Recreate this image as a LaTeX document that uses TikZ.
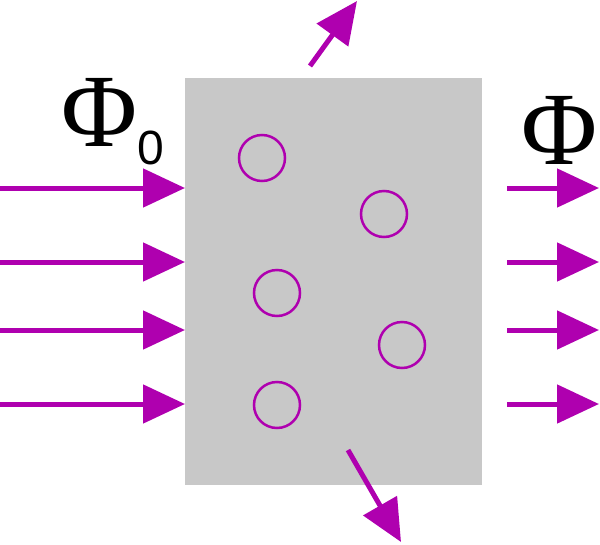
\documentclass[tikz,border=0pt]{standalone}
\usepackage{fontspec}
\setmainfont{Liberation Serif}
\newfontfamily\digitfont{Liberation Sans}
\usetikzlibrary{arrows.meta}
\definecolor{purp}{RGB}{175,0,175}
\definecolor{slab}{RGB}{200,200,200}
\begin{document}
\begin{tikzpicture}[x=1pt,y=-1pt,
  ray/.style={draw=purp,line width=5pt,-{Triangle[length=42pt,width=38pt]}},
  particle/.style={circle,draw=purp,line width=2.5pt,minimum size=46pt,inner sep=0pt},
  lbl/.style={inner sep=0pt,text=black}]
\useasboundingbox (0,0) rectangle (600,544);
\fill[slab] (185,78) rectangle (482,485);
\node[particle] (p1) at (262,158) {};
\node[particle] (p2) at (384,214) {};
\node[particle] (p3) at (277,293) {};
\node[particle] (p4) at (402,345) {};
\node[particle] (p5) at (277,405) {};
\foreach \i/\y in {1/188,2/262,3/330,4/404}{
  \coordinate (la\i) at (0,\y);
  \coordinate (lb\i) at (185,\y);
  \coordinate (ra\i) at (507,\y);
  \coordinate (rb\i) at (599,\y);
  \draw[ray] (la\i) -- (lb\i);
  \draw[ray] (ra\i) -- (rb\i);
}
\coordinate (ua) at (310,66);
\coordinate (ub) at (357,1);
\draw[ray] (ua) -- (ub);
\coordinate (da) at (348,450);
\coordinate (db) at (401,542);
\draw[ray] (da) -- (db);
\node[lbl,anchor=base] (phi0) at (100,146) {\fontsize{104}{104}\selectfont Φ};
\node[lbl,anchor=base west] (sub0) at (137,164) {\fontsize{48}{48}\digitfont 0};
\node[lbl,anchor=base] (phi) at (560,164) {\fontsize{104}{104}\selectfont Φ};
\end{tikzpicture}
\end{document}
